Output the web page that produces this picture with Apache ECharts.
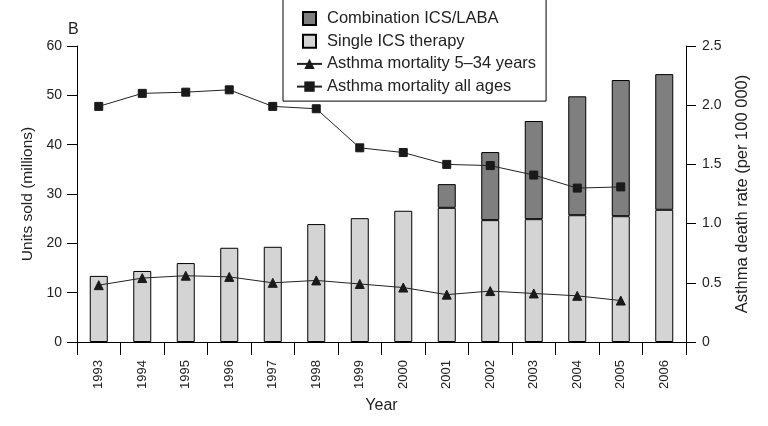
<!DOCTYPE html>
<html><head><meta charset="utf-8">
<script src="https://cdn.jsdelivr.net/npm/echarts@6/dist/echarts.min.js"></script>
<style>html,body{margin:0;padding:0;background:#fff}#c{width:768px;height:426px}</style>
</head><body><div id="c"></div>
<script>
var years = ['1993','1994','1995','1996','1997','1998','1999','2000','2001','2002','2003','2004','2005','2006'];
var singleICS = [13.4,14.4,16.0,19.1,19.3,23.9,25.1,26.6,27.2,24.7,24.9,25.7,25.5,26.8];
var combination = [null,null,null,null,null,null,null,null,4.8,13.8,19.9,24.1,27.6,27.5];
var mortalityAll = [1.99,2.10,2.11,2.13,1.99,1.97,1.64,1.60,1.50,1.49,1.41,1.30,1.31,null];
var mortality534 = [0.48,0.54,0.56,0.55,0.50,0.52,0.49,0.46,0.40,0.43,0.41,0.39,0.35,null];
var leftTicks = [0,10,20,30,40,50,60];
var rightTicks = [0,0.5,1.0,1.5,2.0,2.5];

var font = 'Liberation Sans';
var txt = '#222';
var chart = echarts.init(document.getElementById('c'));
chart.setOption({
  animation: false,
  textStyle: {fontFamily: font, color: txt},
  title: {text: 'B', left: 63, top: 17, textStyle: {fontFamily: font, fontSize: 16, fontWeight: 'normal', color: txt}},
  legend: {
    left: 283, top: -1, orient: 'vertical',
    backgroundColor: '#fff', borderColor: '#000', borderWidth: 1,
    padding: [11, 10, 6, 13], itemGap: 5.7, itemWidth: 25, itemHeight: 13,
    textStyle: {fontFamily: font, fontSize: 16.5, color: txt},
    data: [
      {name: 'Combination ICS/LABA', icon: 'path://M0,0h10v10h-10z'},
      {name: 'Single ICS therapy', icon: 'path://M0,0h10v10h-10z'},
      {name: 'Asthma mortality 5\u201334 years'},
      {name: 'Asthma mortality all ages'}
    ]
  },
  grid: {left: 77, right: 82, top: 46, bottom: 84},
  xAxis: {
    type: 'category', data: years, boundaryGap: true,
    name: 'Year', nameLocation: 'middle', nameGap: 56,
    nameTextStyle: {fontFamily: font, fontSize: 16, color: txt},
    axisLine: {lineStyle: {color: '#000', width: 1}},
    axisTick: {show: true, interval: 0, length: 13, lineStyle: {color: '#000'}},
    axisLabel: {rotate: 90, interval: 0, margin: 18, fontSize: 13, color: txt, fontFamily: font}
  },
  yAxis: [
    {
      type: 'value', min: leftTicks[0], max: leftTicks[leftTicks.length-1], interval: 10,
      name: 'Units sold (millions)', nameLocation: 'middle', nameGap: 37,
      nameTextStyle: {fontFamily: font, fontSize: 15.5, color: txt},
      axisLine: {show: true, lineStyle: {color: '#000'}},
      axisTick: {show: true, length: 10, lineStyle: {color: '#000'}},
      axisLabel: {fontSize: 14, color: txt, margin: 15, fontFamily: font},
      splitLine: {show: false}
    },
    {
      type: 'value', min: rightTicks[0], max: rightTicks[rightTicks.length-1], interval: 0.5,
      name: 'Asthma death rate (per 100 000)', nameLocation: 'middle', nameGap: 48,
      nameTextStyle: {fontFamily: font, fontSize: 16.5, color: txt},
      axisLine: {show: true, lineStyle: {color: '#000'}},
      axisTick: {show: true, length: 10, lineStyle: {color: '#000'}},
      axisLabel: {fontSize: 14, color: txt, margin: 16, fontFamily: font,
        formatter: function (v) { return v === 0 ? '0' : v.toFixed(1); }},
      splitLine: {show: false}
    }
  ],
  series: [
    {
      name: 'Single ICS therapy', type: 'bar', stack: 'units', data: singleICS,
      barWidth: 18, itemStyle: {color: '#d4d4d4', borderColor: '#000', borderWidth: 1}
    },
    {
      name: 'Combination ICS/LABA', type: 'bar', stack: 'units', data: combination,
      barWidth: 18, itemStyle: {color: '#7f7f7f', borderColor: '#000', borderWidth: 1}
    },
    {
      name: 'Asthma mortality 5\u201334 years', type: 'line', yAxisIndex: 1, data: mortality534,
      symbol: 'triangle', symbolSize: 9, showAllSymbol: true,
      lineStyle: {color: '#222', width: 1}, itemStyle: {color: '#1a1a1a', borderColor: '#1a1a1a'}
    },
    {
      name: 'Asthma mortality all ages', type: 'line', yAxisIndex: 1, data: mortalityAll,
      symbol: 'rect', symbolSize: 8, showAllSymbol: true,
      lineStyle: {color: '#222', width: 1}, itemStyle: {color: '#1a1a1a', borderColor: '#1a1a1a'}
    }
  ]
});
</script></body></html>
